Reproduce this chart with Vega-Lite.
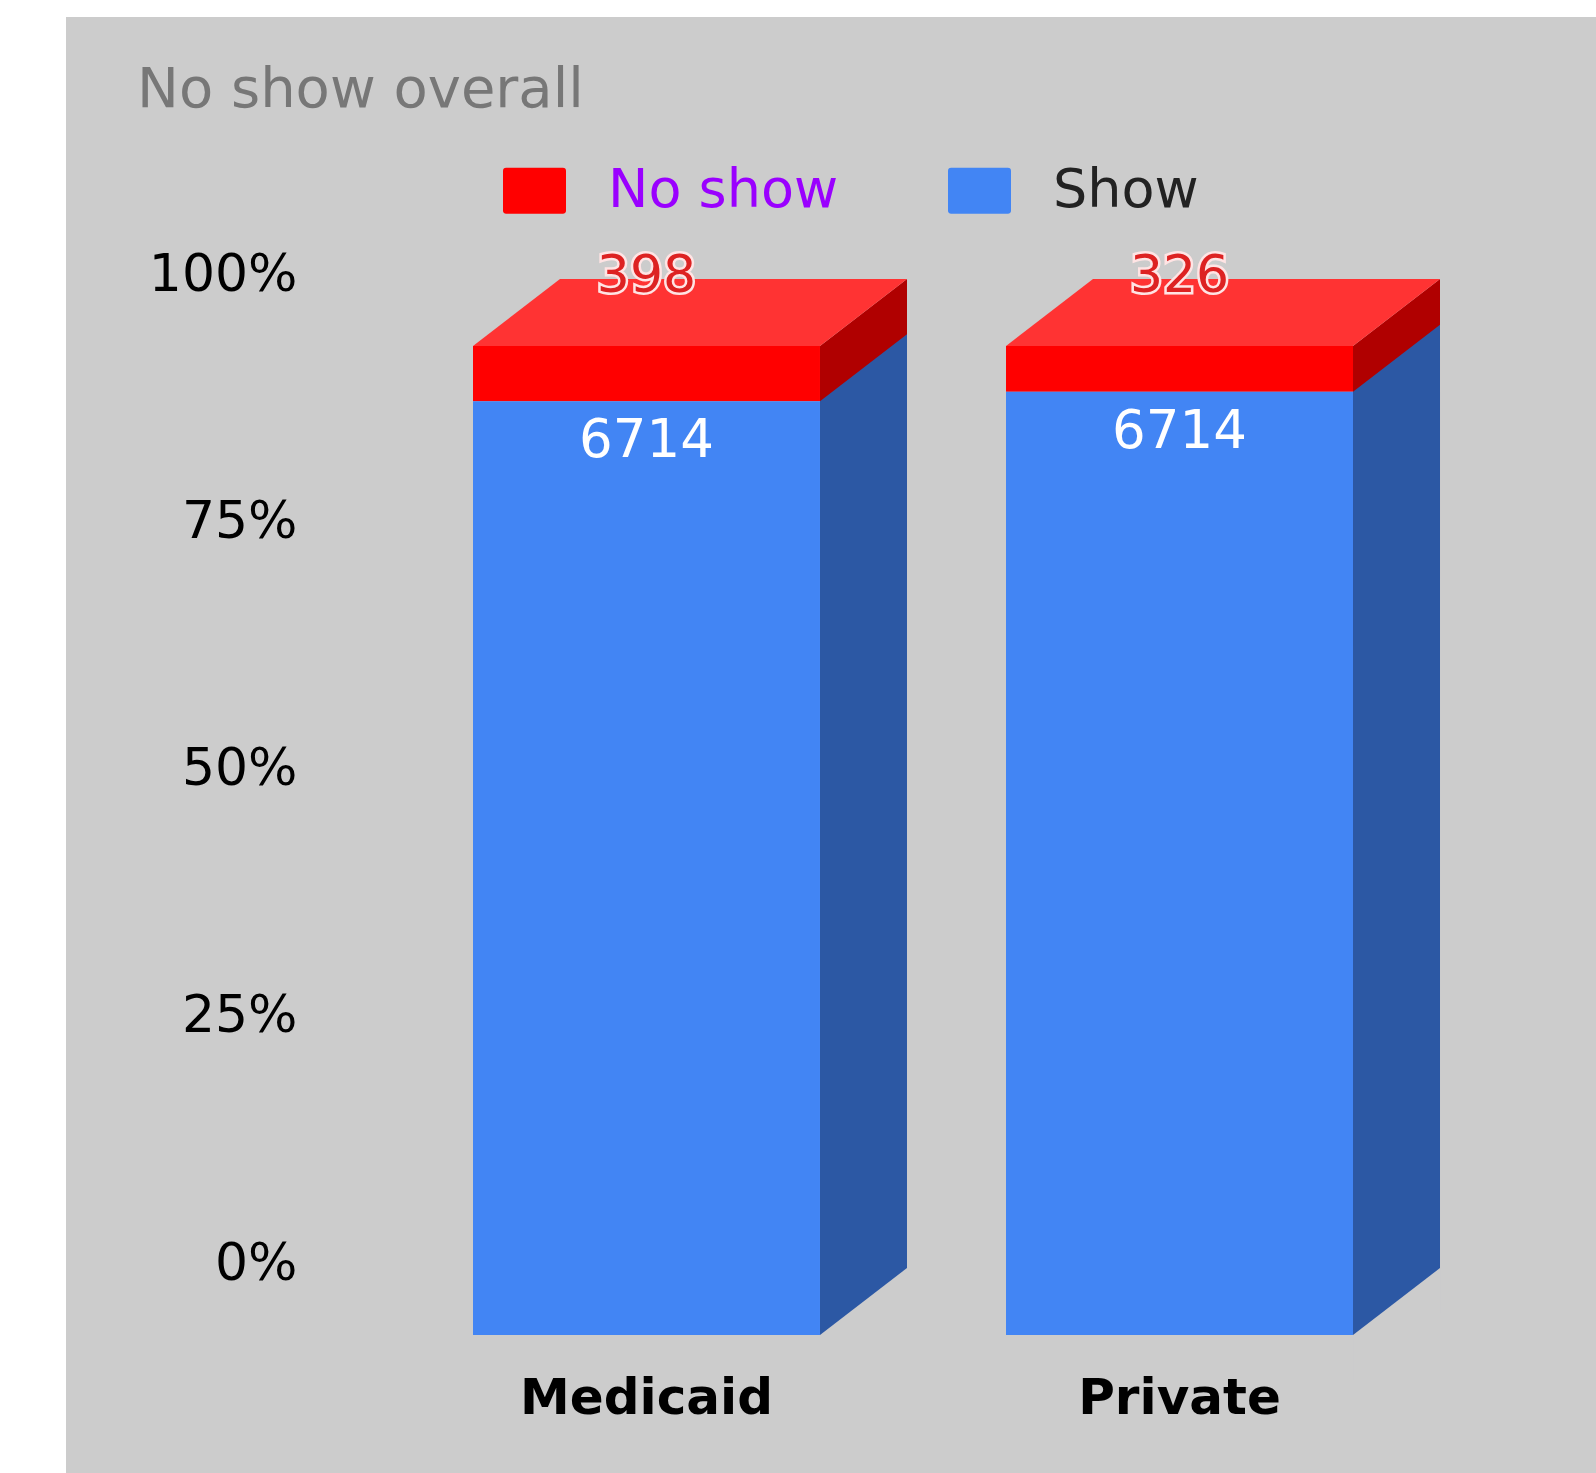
{
  "$schema": "https://vega.github.io/schema/vega-lite/v6.json",
  "width": 1530,
  "height": 1456,
  "autosize": {"type": "none"},
  "padding": {"left": 66, "top": 17, "right": 0, "bottom": 0},
  "background": "white",
  "view": {"fill": "#cccccc", "stroke": null},
  "title": {
    "text": "No show overall",
    "anchor": "start",
    "frame": "group",
    "offset": 0,
    "dx": 71,
    "dy": 146,
    "baseline": "alphabetic",
    "fontSize": 56,
    "fontWeight": "normal",
    "font": "DejaVu Sans",
    "color": "#777777"
  },
  "config": {
    "axis": {"grid": false, "domain": false, "ticks": false, "tickSize": 0, "labelLimit": 500},
    "font": "DejaVu Sans"
  },
  "data": {
    "values": [
      {"insurance": "Medicaid", "status": "No show", "count": 398},
      {"insurance": "Medicaid", "status": "Show", "count": 6714},
      {"insurance": "Private", "status": "No show", "count": 326},
      {"insurance": "Private", "status": "Show", "count": 6714}
    ]
  },
  "encoding": {
    "x": {
      "field": "insurance",
      "type": "nominal",
      "title": null,
      "scale": {"range": [407, 1287], "paddingInner": 0.349, "paddingOuter": 0},
      "axis": {
        "offset": -75,
        "labelAngle": 0,
        "labelBaseline": "middle",
        "labelPadding": 0,
        "labelLimit": 500,
        "labelFontSize": 50,
        "labelFontWeight": "bold",
        "labelFont": "DejaVu Sans",
        "labelColor": "black"
      }
    }
  },
  "layer": [
    {
      "transform": [{"filter": "datum.status === 'No show'"}],
      "mark": {"type": "point", "shape": "M173.5,0L260.5,-67L260.5,233L173.5,300Z", "size": 4, "filled": true, "color": "#b00000", "opacity": 1, "strokeWidth": 0},
      "encoding": {
        "y": {"datum": 1, "type": "quantitative", "title": null, "scale": {"domain": [0, 1], "range": [1318, 329]}}
      }
    },
    {
      "mark": {"type": "point", "shape": "M173.5,0L260.5,-67L260.5,922L173.5,989Z", "size": 4, "filled": true, "color": "#2c58a4", "strokeWidth": 0},
      "encoding": {
        "y": {"field": "count", "type": "quantitative", "stack": "normalize", "title": null, "scale": {"domain": [0, 1], "range": [1318, 329]}},
        "detail": {"field": "status"},
        "order": {"field": "status", "sort": "descending"},
        "opacity": {"condition": {"test": "datum.status === 'Show'", "value": 1}, "value": 0}
      }
    },
    {
      "transform": [{"filter": "datum.status === 'No show'"}],
      "mark": {"type": "point", "shape": "M173.5,0L260.5,-67L260.5,150L173.5,150Z", "size": 4, "filled": true, "color": "#cccccc", "opacity": 1, "strokeWidth": 0},
      "encoding": {
        "y": {"datum": 0, "type": "quantitative", "title": null, "scale": {"domain": [0, 1], "range": [1318, 329]}}
      }
    },
    {
      "transform": [{"filter": "datum.status === 'No show'"}],
      "mark": {"type": "point", "shape": "M-173.5,0L173.5,0L260.5,-67L-86.5,-67Z", "size": 4, "filled": true, "color": "#ff3333", "opacity": 1, "strokeWidth": 0},
      "encoding": {
        "y": {"datum": 1, "type": "quantitative", "title": null, "scale": {"domain": [0, 1], "range": [1318, 329]}}
      }
    },
    {
      "mark": {"type": "bar"},
      "encoding": {
        "y": {
          "field": "count",
          "type": "quantitative",
          "stack": "normalize",
          "title": null,
          "scale": {"domain": [0, 1], "range": [1318, 329]},
          "axis": {
            "values": [0, 0.25, 0.5, 0.75, 1],
            "format": ".0%",
            "offset": -231,
            "labelOffset": -72,
            "labelPadding": 0,
            "labelFlush": false,
            "labelOverlap": false,
            "labelAlign": "right",
            "labelBaseline": "middle",
            "labelFontSize": 52,
            "labelFont": "DejaVu Sans",
            "labelColor": "black"
          }
        },
        "color": {
          "field": "status",
          "type": "nominal",
          "scale": {"domain": ["No show", "Show"], "range": ["#ff0000", "#4285f4"]},
          "legend": {
            "title": null,
            "orient": "none",
            "legendX": 437,
            "legendY": 142,
            "direction": "horizontal",
            "symbolType": "M-0.9,-0.73H0.9Q1,-0.73 1,-0.63V0.63Q1,0.73 0.9,0.73H-0.9Q-1,0.73 -1,0.63V-0.63Q-1,-0.73 -0.9,-0.73Z",
            "symbolSize": 3969,
            "symbolStrokeWidth": 0,
            "symbolOpacity": 1,
            "labelFontSize": 54,
            "labelFont": "DejaVu Sans",
            "labelOffset": 42,
            "labelLimit": 400,
            "columnPadding": 109,
            "labelColor": {"expr": "datum.label === 'No show' ? '#9a00ff' : '#222222'"}
          }
        },
        "order": {"field": "status", "sort": "descending"}
      }
    },
    {
      "mark": {"type": "text", "dy": -70, "fontSize": 52, "font": "DejaVu Sans", "color": "#ffe4e4", "stroke": "#ffe4e4", "strokeWidth": 5, "baseline": "middle"},
      "encoding": {
        "y": {"field": "count", "type": "quantitative", "stack": "normalize", "title": null, "scale": {"domain": [0, 1], "range": [1318, 329]}},
        "detail": {"field": "status"},
        "order": {"field": "status", "sort": "descending"},
        "text": {"condition": {"test": "datum.status === 'No show'", "field": "count", "type": "nominal"}, "value": ""}
      }
    },
    {
      "mark": {"type": "text", "dy": -70, "fontSize": 52, "font": "DejaVu Sans", "color": "#dd2222", "baseline": "middle"},
      "encoding": {
        "y": {"field": "count", "type": "quantitative", "stack": "normalize", "title": null, "scale": {"domain": [0, 1], "range": [1318, 329]}},
        "detail": {"field": "status"},
        "order": {"field": "status", "sort": "descending"},
        "text": {"condition": {"test": "datum.status === 'No show'", "field": "count", "type": "nominal"}, "value": ""}
      }
    },
    {
      "mark": {"type": "text", "dy": 40, "fontSize": 53, "font": "DejaVu Sans", "color": "white", "baseline": "middle"},
      "encoding": {
        "y": {"field": "count", "type": "quantitative", "stack": "normalize", "title": null, "scale": {"domain": [0, 1], "range": [1318, 329]}},
        "detail": {"field": "status"},
        "order": {"field": "status", "sort": "descending"},
        "text": {"condition": {"test": "datum.status === 'Show'", "field": "count", "type": "nominal"}, "value": ""}
      }
    }
  ]
}
